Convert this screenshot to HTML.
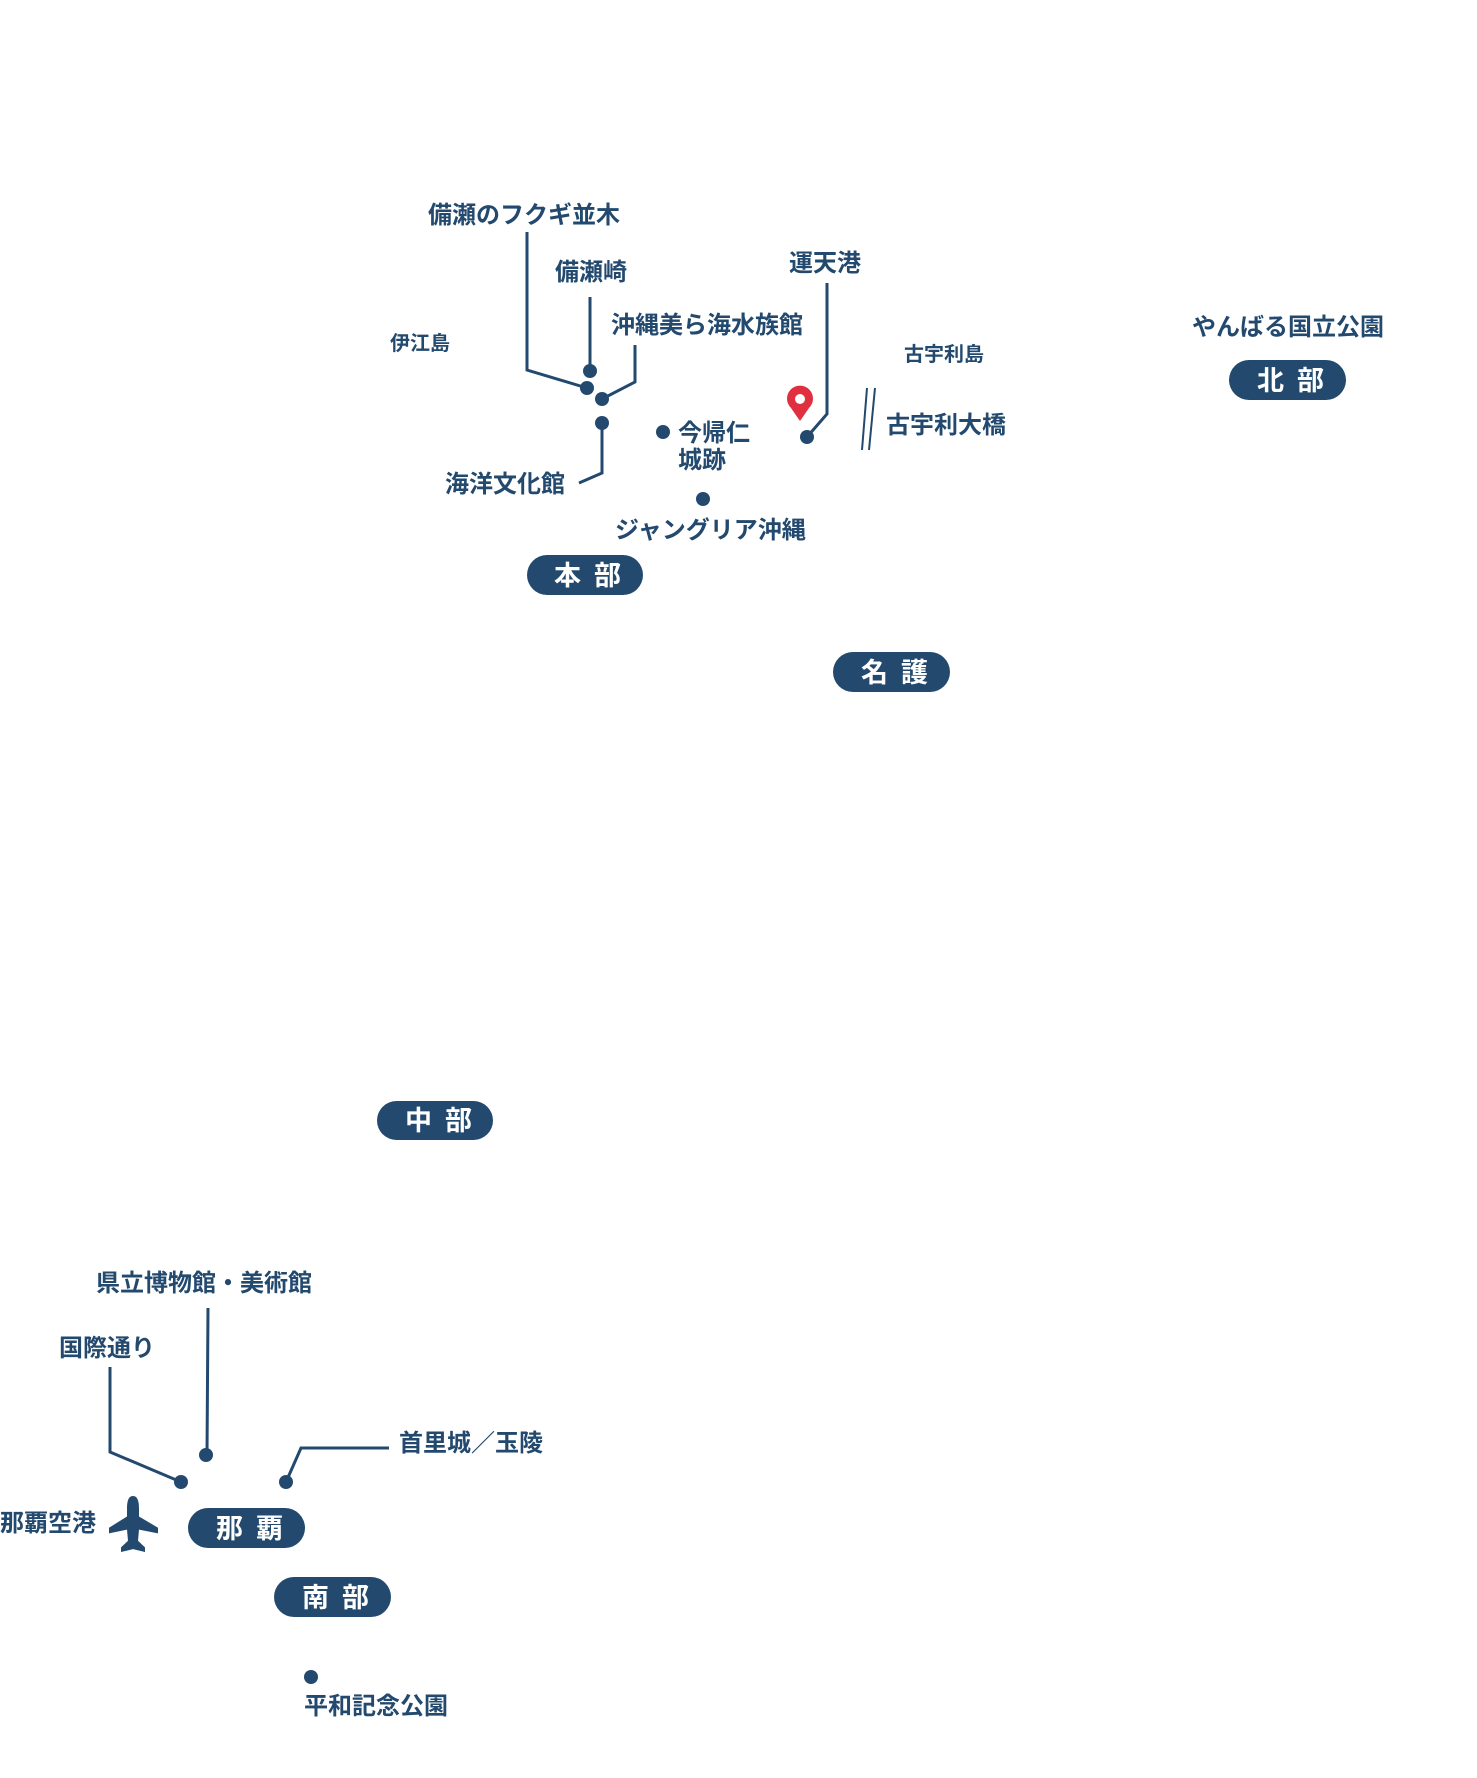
<!DOCTYPE html>
<html><head><meta charset="utf-8"><style>
html,body{margin:0;padding:0;background:#fff;}
svg{display:block}
text{font-family:"Liberation Sans","Noto Sans CJK JP",sans-serif;font-weight:bold;fill:#234a6e;}
.s{font-size:20px}
.m{font-size:24px}
.p{font-size:27px;fill:#fff;letter-spacing:13px}
line,polyline{stroke:#234a6e;stroke-width:3;fill:none}
circle{fill:#234a6e}
rect{fill:#234a6e}
</style></head><body>
<svg width="1477" height="1778" viewBox="0 0 1477 1778" xmlns="http://www.w3.org/2000/svg">
<!-- North -->
<text class="m" x="1192" y="335">やんばる国立公園</text>
<rect x="1229" y="360" width="117" height="40" rx="20"/>
<text class="p" x="1257" y="390">北部</text>

<!-- Motobu -->
<text class="m" x="428" y="223">備瀬のフクギ並木</text>
<polyline points="527,232 527,370 587,388"/>
<circle cx="587" cy="388" r="7"/>
<text class="m" x="555" y="280">備瀬崎</text>
<line x1="590" y1="297" x2="590" y2="371"/>
<circle cx="590" cy="371" r="7"/>
<text class="m" x="611" y="333">沖縄美ら海水族館</text>
<polyline points="635,345 635,382 602,399"/>
<circle cx="602" cy="399" r="7"/>
<circle cx="602" cy="423" r="7"/>
<polyline points="602,423 602,473 579,483"/>
<text class="m" x="445" y="492">海洋文化館</text>
<text class="s" x="390" y="350">伊江島</text>
<circle cx="663" cy="432" r="7"/>
<text class="m" x="678" y="441">今帰仁</text>
<text class="m" x="678" y="468">城跡</text>
<circle cx="703" cy="499" r="7"/>
<text class="m" x="615" y="538">ジャングリア沖縄</text>
<rect x="527" y="555" width="116" height="40" rx="20"/>
<text class="p" x="554" y="585">本部</text>

<!-- Unten / Kouri -->
<text class="m" x="789" y="271">運天港</text>
<polyline points="827,283 827,414 807,437"/>
<circle cx="807" cy="437" r="7"/>
<path d="M800,421 L791,408 A13,13 0 1 1 809,408 Z" fill="#e0303f"/>
<circle cx="800" cy="399" r="5" style="fill:#fff"/>
<text class="s" x="904" y="361">古宇利島</text>
<line x1="867" y1="388" x2="862" y2="450" style="stroke-width:2"/>
<line x1="875" y1="388" x2="869" y2="450" style="stroke-width:2"/>
<text class="m" x="886" y="433">古宇利大橋</text>
<rect x="833" y="652" width="117" height="40" rx="20"/>
<text class="p" x="861" y="682">名護</text>

<!-- Chubu -->
<rect x="377" y="1101" width="116" height="39" rx="19.5"/>
<text class="p" x="405" y="1130">中部</text>

<!-- Naha -->
<text class="m" x="96" y="1291">県立博物館・美術館</text>
<line x1="208" y1="1308" x2="207" y2="1455"/>
<circle cx="206" cy="1455" r="7"/>
<text class="m" x="59" y="1356">国際通り</text>
<polyline points="110,1367 110,1452 181,1482"/>
<circle cx="181" cy="1482" r="7"/>
<text class="m" x="399" y="1451">首里城／玉陵</text>
<polyline points="389,1448 301,1448 286,1482"/>
<circle cx="286" cy="1482" r="7"/>
<text class="m" x="0" y="1531">那覇空港</text>
<g transform="translate(0,1496) scale(1,0.933) translate(0,-1515)">
<path d="M133,1515 C128,1515 127,1522 127,1528 L127,1537 L109,1549 L109,1555 L127,1551 L128,1563 L121,1570 L121,1575 L133,1572 L145,1575 L145,1570 L138,1563 L139,1551 L158,1555 L158,1549 L139,1537 L139,1528 C139,1522 138,1515 133,1515 Z" fill="#234a6e"/>
</g>
<rect x="188" y="1508" width="117" height="40" rx="20"/>
<text class="p" x="216" y="1538">那覇</text>
<rect x="274" y="1577" width="117" height="40" rx="20"/>
<text class="p" x="302" y="1607">南部</text>
<circle cx="311" cy="1677" r="7"/>
<text class="m" x="304" y="1714">平和記念公園</text>
</svg>
</body></html>
